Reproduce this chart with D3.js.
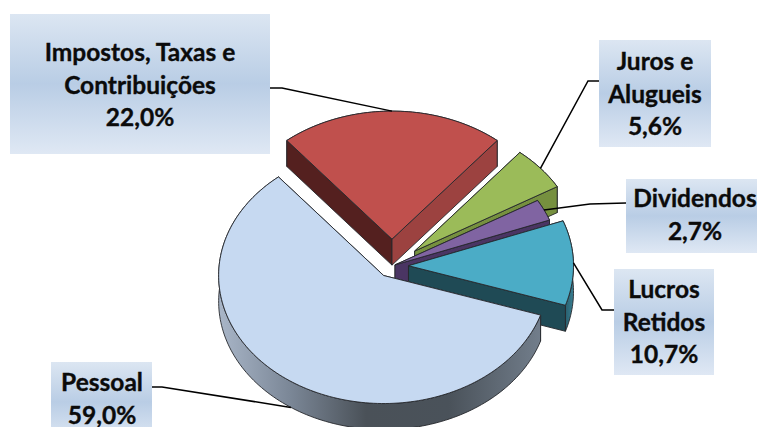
<!DOCTYPE html>
<html>
<head>
<meta charset="utf-8">
<script src="https://cdn.jsdelivr.net/npm/d3@7/dist/d3.min.js"></script>
<style>
html,body{margin:0;padding:0;background:#fff;overflow:hidden}
svg{display:block}
text{font-family:Lato,"Open Sans",sans-serif;font-weight:700;fill:#0b0b0b;stroke:#0b0b0b;stroke-width:.35px}
</style>
</head>
<body>
<svg id="chart" width="757" height="427"></svg>
<script>
// Composition of value added, clockwise from the lower right
const categories = ["Pessoal", "Impostos, Taxas e Contribuições", "Juros e Alugueis", "Dividendos", "Lucros Retidos"];
const shares = [59.0, 22.0, 5.6, 2.7, 10.7];
const labelLines = [["Pessoal"], ["Impostos, Taxas e", "Contribuições"], ["Juros e", "Alugueis"], ["Dividendos"], ["Lucros", "Retidos"]];

// How far each slice is pulled from the pie centre, as a fraction of the radius
const explode = [0.09, 0.21, 0.18, 0.02, 0.10];

const topColors  = ["#c6d9f1", "#c0504d", "#9bbb59", "#8064a2", "#4bacc6"];
const wallStart  = ["#7f8b9c", "#54201f", "#76903f", "#4a3563", "#31748a"];
const wallEnd    = ["#7f8b9c", "#9c4240", "#76903f", "#4a3563", "#1f4a55"];
const sideColors = ["url(#pessoalSide)", "#9c4240", "#76903f", "#5f4a7d", "url(#lucrosSide)"];

// Label boxes [x, y, w, h], text centre and first baseline, and the elbow of each leader line
const boxes = [[51, 362, 101, 80], [10, 14, 260, 140], [599, 40, 112, 107], [626, 179, 140, 74], [614, 269, 100, 106]];
const textX = [102, 140, 655, 695, 664];
const textY = [391, 61, 70, 207, 298];
const leaders = [[[152, 387], [162, 387]], [[270, 88], [282, 88]], [[599, 81], [588, 81]], [[626, 203], [590, 204]], [[614, 310], [602, 310]]];

const depth = 26, fontSize = 24.5, lineStep = 32.5;
const x = d3.scaleLinear().domain([-1, 1]).range([392 - 165, 392 + 165]);
const y = d3.scaleLinear().domain([-1, 1]).range([266 - 128, 266 + 128]);

const svg = d3.select("#chart");
const defs = svg.append("defs");

function gradient(id, attrs, stops) {
  const g = defs.append("linearGradient").attr("id", id);
  Object.entries(attrs).forEach(([k, v]) => g.attr(k, v));
  stops.forEach(([o, c]) => g.append("stop").attr("offset", o).attr("stop-color", c));
}
gradient("pessoalSide", {gradientUnits: "userSpaceOnUse", x1: 217, x2: 548, y1: 0, y2: 0},
  [[0, "#aab7c9"], [0.22, "#7b8797"], [0.45, "#4a5158"], [0.7, "#4a525a"], [1, "#75818f"]]);
gradient("lucrosSide", {gradientUnits: "userSpaceOnUse", x1: 560, x2: 577, y1: 0, y2: 0},
  [[0, "#1f4a55"], [1, "#3f8da3"]]);
gradient("labelFill", {x1: 0, x2: 0, y1: 0, y2: 1},
  [[0, "#dce6f2"], [0.5, "#b9cde5"], [1, "#dfe8f4"]]);

const pie = d3.pie().sort(null).value(d => d)
  .startAngle(108 * Math.PI / 180)
  .endAngle((108 + 360) * Math.PI / 180);
const arcs = pie(shares);

const line = d3.line();
const toDisk = (a, r) => [Math.sin(a) * r, -Math.cos(a) * r];

// Screen position of a disk point of slice i, lowered by dz
function project(i, a, r, dz) {
  const mid = (arcs[i].startAngle + arcs[i].endAngle) / 2;
  const [ox, oy] = toDisk(mid, explode[i]);
  const [px, py] = toDisk(a, r);
  return [x(ox + px), y(oy + py) + dz];
}
function rim(i, dz) {
  const {startAngle: s, endAngle: e} = arcs[i];
  const n = Math.max(6, Math.ceil((e - s) * 40));
  return d3.range(n + 1).map(k => project(i, s + (e - s) * k / n, 1, dz));
}

const strokeStyle = sel => sel.attr("stroke", "#26282c").attr("stroke-width", 0.9).attr("stroke-linejoin", "round");
const layer = svg.append("g");

// Painter's order: the rear slices first, Pessoal last since it sits in front
[1, 2, 3, 4, 0].forEach(i => {
  const g = layer.append("g").attr("class", "slice").attr("aria-label", categories[i]);
  const {startAngle: s, endAngle: e} = arcs[i];
  const wall = (a, fill) => g.append("path")
    .attr("d", line([project(i, 0, 0, 0), project(i, a, 1, 0), project(i, a, 1, depth), project(i, 0, 0, depth)]) + "Z")
    .attr("fill", fill).call(strokeStyle);
  const startFaces = Math.sin(s) < 0, endFaces = Math.sin(e) > 0;
  // Walls turned away from the viewer go under the rim, the others over it
  if (!startFaces) wall(s, wallStart[i]);
  if (!endFaces) wall(e, wallEnd[i]);
  g.append("path").attr("d", line(rim(i, 0).concat(rim(i, depth).reverse())) + "Z").attr("fill", sideColors[i]).call(strokeStyle);
  if (startFaces) wall(s, wallStart[i]);
  if (endFaces) wall(e, wallEnd[i]);
  g.append("path").attr("d", line([project(i, 0, 0, 0), ...rim(i, 0)]) + "Z").attr("fill", topColors[i]).call(strokeStyle);
});

// Leader lines end on the outer edge of each slice, at its mid angle
const leaderGroup = svg.append("g");
arcs.forEach((d, i) => {
  const mid = (d.startAngle + d.endAngle) / 2;
  const end = project(i, mid, 1, i === 0 ? depth : 0);
  leaderGroup.append("path").attr("d", line([...leaders[i], end]))
    .attr("fill", "none").attr("stroke", "#000").attr("stroke-width", 1.5);
});

// Data labels
const pct = d3.formatLocale({decimal: ",", thousands: ".", grouping: [3], currency: ["", ""]}).format(".1f");
boxes.forEach(([bx, by, bw, bh], i) => {
  const g = svg.append("g");
  g.append("rect").attr("x", bx).attr("y", by).attr("width", bw).attr("height", bh).attr("fill", "url(#labelFill)");
  const rows = [...labelLines[i], pct(shares[i]) + "%"];
  rows.forEach((t, k) => g.append("text")
    .attr("x", textX[i]).attr("y", textY[i] + k * lineStep)
    .attr("text-anchor", "middle").attr("font-size", fontSize).text(t));
});
</script>
</body>
</html>
